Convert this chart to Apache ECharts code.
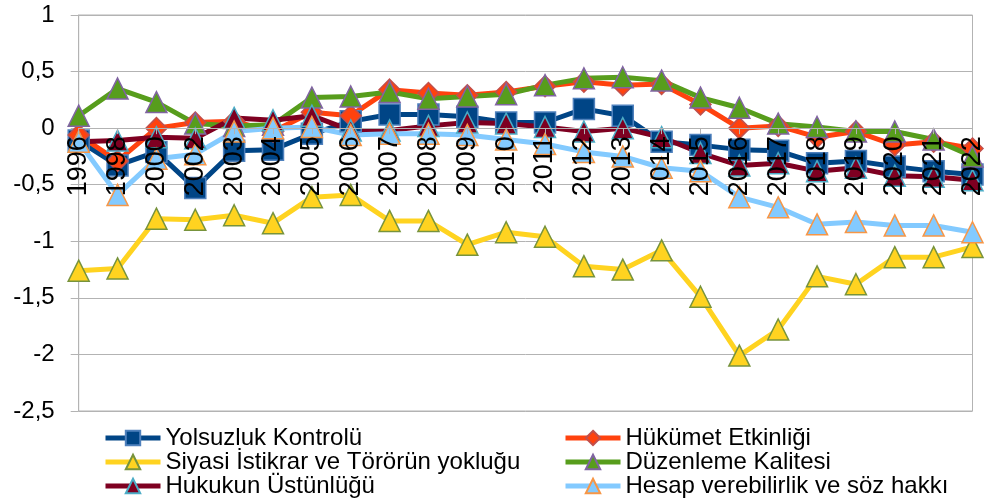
<!DOCTYPE html>
<html>
<head>
<meta charset="utf-8">
<script src="https://cdn.jsdelivr.net/npm/echarts@6/dist/echarts.min.js"></script>
<style>html,body{margin:0;padding:0;background:#fff}#c{width:986px;height:503px}</style>
</head>
<body>
<div id="c"></div>
<script>
const categories = ['1996','1998','2000','2002','2003','2004','2005','2006','2007','2008','2009','2010','2011','2012','2013','2014','2015','2016','2017','2018','2019','2020','2021','2022'];
const yolsuzluk = [-0.11,-0.33,-0.21,-0.53,-0.20,-0.19,-0.05,0.06,0.12,0.12,0.10,0.05,0.05,0.17,0.11,-0.12,-0.15,-0.19,-0.20,-0.31,-0.29,-0.34,-0.38,-0.41];
const hukumet = [-0.06,-0.29,0.00,0.05,0.06,-0.03,0.14,0.11,0.34,0.31,0.29,0.32,0.37,0.41,0.38,0.39,0.21,0.00,0.02,-0.08,-0.03,-0.15,-0.12,-0.18];
const siyasi = [-1.26,-1.24,-0.80,-0.81,-0.77,-0.84,-0.61,-0.59,-0.82,-0.82,-1.03,-0.92,-0.96,-1.22,-1.25,-1.08,-1.49,-2.01,-1.78,-1.31,-1.38,-1.14,-1.14,-1.05];
const duzenleme = [0.11,0.35,0.23,0.04,0.02,0.03,0.27,0.28,0.32,0.26,0.28,0.30,0.38,0.44,0.45,0.42,0.27,0.18,0.04,0.01,-0.03,-0.03,-0.10,-0.25];
const hukukun = [-0.12,-0.11,-0.08,-0.09,0.09,0.07,0.11,-0.02,-0.02,0.02,0.05,0.04,0.01,-0.03,0.00,-0.08,-0.22,-0.33,-0.31,-0.38,-0.35,-0.42,-0.43,-0.46];
const hesap = [-0.12,-0.59,-0.27,-0.23,-0.03,0.00,0.01,-0.06,-0.05,-0.05,-0.06,-0.10,-0.14,-0.21,-0.25,-0.35,-0.38,-0.61,-0.70,-0.85,-0.83,-0.86,-0.86,-0.92];

const names = ['Yolsuzluk Kontrolü','Hükümet Etkinliği','Siyasi İstikrar ve Törörün yokluğu','Düzenleme Kalitesi','Hukukun Üstünlüğü','Hesap verebilirlik ve söz hakkı'];
const FONT = "'Liberation Sans', Arial, sans-serif";
const grid = '#b3b3b3';
const Y_MIN = -2.5, Y_MAX = 1;
const GRID_TOP = 15, GRID_BOTTOM = 92, CHART_H = 503;
const plotH = CHART_H - GRID_TOP - GRID_BOTTOM;
// place the category axis at value 0 (axis crosses at zero)
const zeroOffset = -((0 - Y_MIN) / (Y_MAX - Y_MIN)) * plotH;

function mk(name, data, color, border, symbol) {
  return {
    name, type: 'line', data, symbol, symbolSize: 21,
    lineStyle: { color, width: 5 },
    itemStyle: { color, borderColor: border, borderWidth: 1.5 },
    emphasis: { disabled: true }, animation: false
  };
}

const chart = echarts.init(document.getElementById('c'), null, { renderer: 'canvas' });
const legendCommon = {
  orient: 'vertical', itemWidth: 55, itemHeight: 18, itemGap: 0, padding: 0, height: 75,
  lineStyle: { width: 5 },
  textStyle: { fontFamily: FONT, fontSize: 24, color: '#000', lineHeight: 23.5 },
  selectedMode: false
};
chart.setOption({
  animation: false,
  grid: { left: 78.7, right: 10, top: GRID_TOP, bottom: GRID_BOTTOM, containLabel: false, show: true, borderColor: grid, borderWidth: 1 },
  legend: [
    Object.assign({ left: 103, top: 426, data: [names[0], names[2], names[4]] }, legendCommon),
    Object.assign({ left: 563, top: 426, data: [names[1], names[3], names[5]] }, legendCommon)
  ],
  xAxis: {
    type: 'category', data: categories, boundaryGap: false, z: 10,
    offset: zeroOffset,
    axisLine: { show: true, onZero: false, lineStyle: { color: grid } },
    axisTick: { show: true, alignWithLabel: true, length: 6, lineStyle: { color: grid } },
    axisLabel: { interval: 0, rotate: 90, margin: 8, fontFamily: FONT, fontSize: 27, color: '#000' },
    splitLine: { show: false }
  },
  yAxis: {
    type: 'value', min: Y_MIN, max: Y_MAX, interval: 0.5,
    axisLine: { show: true, onZero: false, lineStyle: { color: grid } },
    axisTick: { show: true, length: 8, lineStyle: { color: grid } },
    axisLabel: { margin: 24, fontFamily: FONT, fontSize: 24, color: '#000',
      formatter: v => String(v).replace('.', ',') },
    splitLine: { lineStyle: { color: grid, width: 1 } }
  },
  series: [
    mk(names[0], yolsuzluk, '#004586', '#4f81bd', 'rect'),
    mk(names[1], hukumet, '#ff420e', '#c0504d', 'diamond'),
    mk(names[2], siyasi, '#ffd320', '#77933c', 'triangle'),
    mk(names[3], duzenleme, '#579d1c', '#8064a2', 'triangle'),
    mk(names[4], hukukun, '#7e0021', '#4bacc6', 'triangle'),
    mk(names[5], hesap, '#83caff', '#f79646', 'triangle')
  ]
});
</script>
</body>
</html>
